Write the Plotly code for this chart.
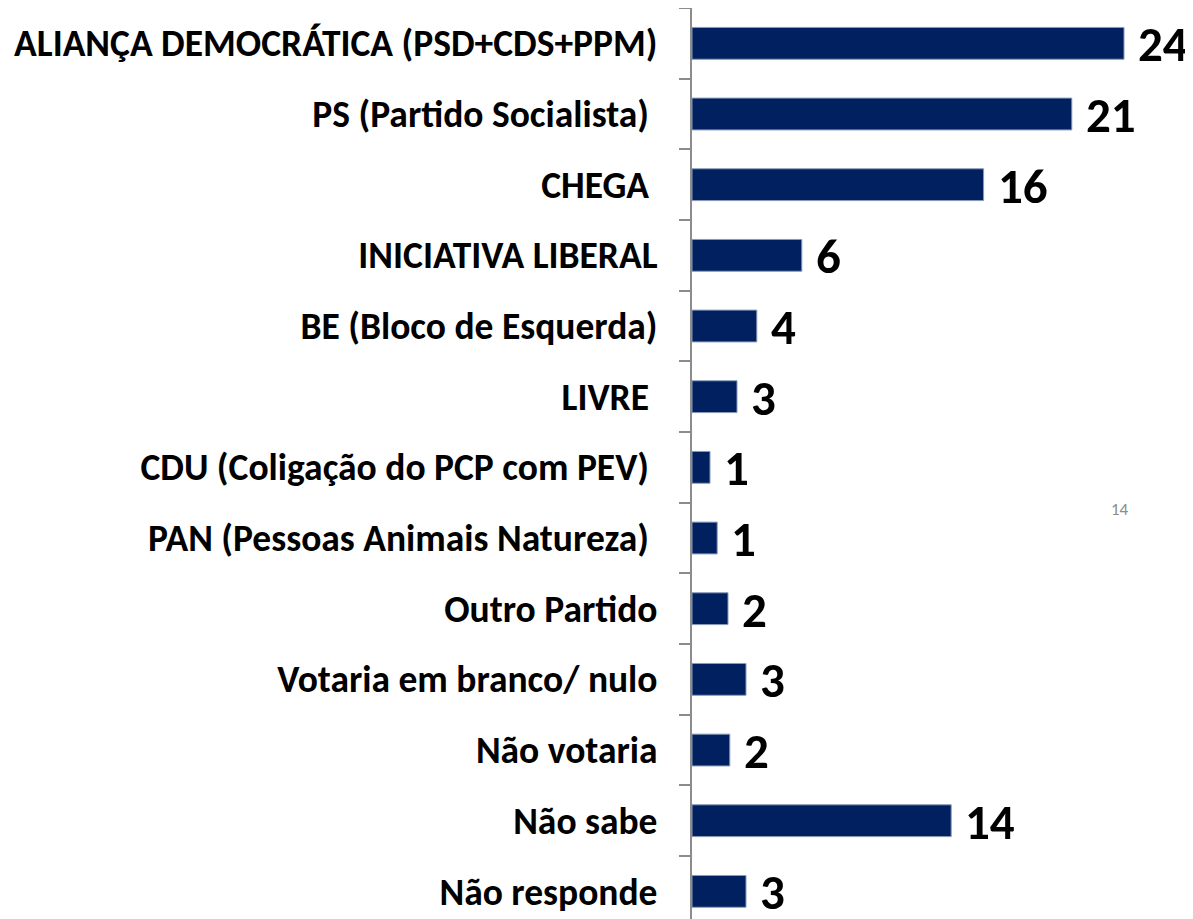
import plotly.graph_objects as go

categories = [
    "ALIANÇA DEMOCRÁTICA (PSD+CDS+PPM)",
    "PS (Partido Socialista)\u00a0",
    "CHEGA\u00a0",
    "INICIATIVA LIBERAL",
    "BE (Bloco de Esquerda)",
    "LIVRE\u00a0",
    "CDU (Coligação do PCP com PEV)\u00a0",
    "PAN (Pessoas Animais Natureza)\u00a0",
    "Outro Partido",
    "Votaria em branco/ nulo",
    "Não votaria",
    "Não sabe",
    "Não responde",
]
values = [24.0, 21.1, 16.2, 6.1, 3.6, 2.5, 1.0, 1.4, 2.0, 3.0, 2.1, 14.4, 3.0]
value_labels = ["24", "21", "16", "6", "4", "3", "1", "1", "2", "3", "2", "14", "3"]

BAR = "#002060"
AXIS = "#8c8c8c"
FONT = "Carlito, Open Sans"

# page body has an 8px margin, so the figure starts at (8, 8)
OFF = 8
W, H = 1193 - OFF, 919 - OFF
L, R, T, B = 692 - OFF, 5, 8 - OFF, 0
plot_w = W - L - R
plot_h = H - T - B
ncat_visible = (919 - 8) / 70.67

fig = go.Figure(
    go.Bar(
        x=values,
        y=categories,
        orientation="h",
        marker=dict(color=BAR, line=dict(color="#8a9bb8", width=1)),
        width=0.45,
        hoverinfo="skip",
    )
)

for c, v, t in zip(categories, values, value_labels):
    fig.add_annotation(
        x=v, y=c, xref="x", yref="y", text=t, showarrow=False,
        xanchor="left", yanchor="middle", xshift=12, yshift=-1,
        font=dict(family=FONT, size=49, color="#000000", weight="bold"),
    )

fig.add_annotation(
    x=(1120 - 692) / plot_w, y=1 - (509 - 8) / plot_h,
    xref="paper", yref="paper", text="14", showarrow=False,
    xanchor="center", yanchor="middle",
    font=dict(family=FONT, size=17, color="#8c8c8c"),
)

fig.update_layout(
    width=W, height=H,
    margin=dict(l=L, r=R, t=T, b=B, pad=0),
    plot_bgcolor="white", paper_bgcolor="white",
    showlegend=False,
    xaxis=dict(
        range=[0, plot_w / 18.0],
        visible=False, fixedrange=True,
    ),
    yaxis=dict(
        type="category",
        categoryorder="array", categoryarray=categories,
        range=[-0.5 + ncat_visible, -0.5],
        tickson="boundaries",
        ticks="outside", ticklen=11, tickwidth=2, tickcolor=AXIS,
        showline=True, linecolor=AXIS, linewidth=2,
        showgrid=False, zeroline=False,
        ticklabelstandoff=25,
        tickfont=dict(family=FONT, size=37.5, color="#000000", weight="bold"),
        fixedrange=True,
    ),
)

fig.write_html("out.html")
